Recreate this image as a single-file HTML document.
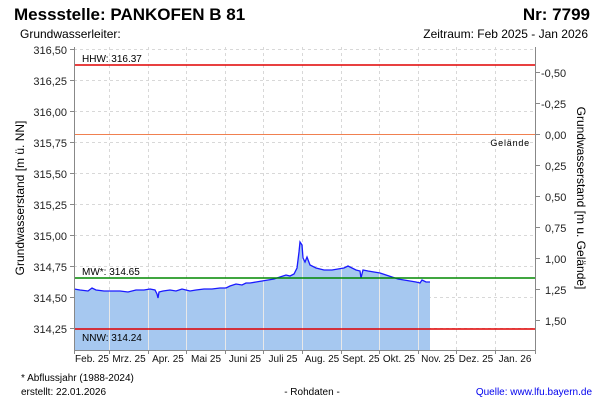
<!DOCTYPE html>
<html><head><meta charset="utf-8"><style>
html,body{margin:0;padding:0;background:#fff;}
svg{display:block;font-family:"Liberation Sans",sans-serif;}
</style></head><body>
<svg width="600" height="400" viewBox="0 0 600 400" xmlns="http://www.w3.org/2000/svg">
<rect width="600" height="400" fill="#fff"/>
<text x="14" y="20" font-size="17" font-weight="bold">Messstelle: PANKOFEN B 81</text>
<text x="590" y="20" font-size="17" font-weight="bold" text-anchor="end">Nr: 7799</text>
<text x="20" y="38" font-size="12">Grundwasserleiter:</text>
<text x="588" y="38" font-size="12" text-anchor="end">Zeitraum: Feb 2025 - Jan 2026</text>

<!-- horizontal grid -->
<g stroke="#d8d8d8" stroke-dasharray="3,3" stroke-width="1">
<line x1="74" x2="536" y1="49.5" y2="49.5"/><line x1="74" x2="536" y1="80.5" y2="80.5"/>
<line x1="74" x2="536" y1="111.5" y2="111.5"/><line x1="74" x2="536" y1="142.5" y2="142.5"/>
<line x1="74" x2="536" y1="173.5" y2="173.5"/><line x1="74" x2="536" y1="204.5" y2="204.5"/>
<line x1="74" x2="536" y1="235.5" y2="235.5"/><line x1="74" x2="536" y1="266.5" y2="266.5"/>
<line x1="74" x2="536" y1="297.5" y2="297.5"/><line x1="74" x2="536" y1="328.5" y2="328.5"/>
</g>
<g stroke="#d8d8d8" stroke-dasharray="3,3">
<line x1="109.5" x2="109.5" y1="47" y2="350"/><line x1="148.5" x2="148.5" y1="47" y2="350"/>
<line x1="186.5" x2="186.5" y1="47" y2="350"/><line x1="225.5" x2="225.5" y1="47" y2="350"/>
<line x1="263.5" x2="263.5" y1="47" y2="350"/><line x1="302.5" x2="302.5" y1="47" y2="350"/>
<line x1="341.5" x2="341.5" y1="47" y2="350"/><line x1="379.5" x2="379.5" y1="47" y2="350"/>
<line x1="418.5" x2="418.5" y1="47" y2="350"/><line x1="456.5" x2="456.5" y1="47" y2="350"/>
<line x1="495.5" x2="495.5" y1="47" y2="350"/>
</g>

<!-- series fill -->
<polygon fill="#a6c8f0" points="74,350 74,289 80,290 88,291 92,288 96,290 104,291 112,291 120,291 128,292 136,290 144,290 150,289 155,290 157,294 158,298 159,292 163,291 170,290 176,291 182,289 190,291 196,290 204,289 212,289 220,288 226,288 230,286 236,284 242,285 246,283 250,283 256,282 262,281 268,280 274,279 280,277 286,275 290,276 294,274 297,268 299,252 300,242 302,245 303,258 305,262 307,257 310,265 316,268 324,270 332,270 338,269 344,268 348,266 352,268 356,270 360,271 361,278 363,270 368,271 374,272 380,273 386,275 392,277 398,279 404,280 410,281 416,282 420,283 422,280 426,282 430,282 430,350"/>
<g stroke="#e8e8e8" stroke-width="1">
<line x1="109.5" x2="109.5" y1="291" y2="350"/><line x1="148.5" x2="148.5" y1="290" y2="350"/>
<line x1="186.5" x2="186.5" y1="291" y2="350"/><line x1="225.5" x2="225.5" y1="288" y2="350"/>
<line x1="263.5" x2="263.5" y1="281" y2="350"/><line x1="302.5" x2="302.5" y1="246" y2="350"/>
<line x1="341.5" x2="341.5" y1="268" y2="350"/><line x1="379.5" x2="379.5" y1="273" y2="350"/>
<line x1="418.5" x2="418.5" y1="282" y2="350"/>
</g>
<polyline fill="none" stroke="#1a1aff" stroke-width="1.3" points="74,289 80,290 88,291 92,288 96,290 104,291 112,291 120,291 128,292 136,290 144,290 150,289 155,290 157,294 158,298 159,292 163,291 170,290 176,291 182,289 190,291 196,290 204,289 212,289 220,288 226,288 230,286 236,284 242,285 246,283 250,283 256,282 262,281 268,280 274,279 280,277 286,275 290,276 294,274 297,268 299,252 300,242 302,245 303,258 305,262 307,257 310,265 316,268 324,270 332,270 338,269 344,268 348,266 352,268 356,270 360,271 361,278 363,270 368,271 374,272 380,273 386,275 392,277 398,279 404,280 410,281 416,282 420,283 422,280 426,282 430,282"/>

<line x1="74" x2="536" y1="65" y2="65" stroke="#e00000" stroke-width="1.5"/>
<text x="82" y="62" font-size="10">HHW: 316.37</text>
<line x1="74" x2="536" y1="134.5" y2="134.5" stroke="#f08050" stroke-width="1"/>
<text x="530" y="146" font-size="9" text-anchor="end" letter-spacing="0.8">Gelände</text>
<line x1="74" x2="536" y1="278" y2="278" stroke="#008800" stroke-width="1.5"/>
<text x="82" y="275" font-size="10">MW*: 314.65</text>
<line x1="74" x2="536" y1="329" y2="329" stroke="#e00000" stroke-width="1.5"/>
<text x="82" y="341" font-size="10">NNW: 314.24</text>

<g stroke="#888" stroke-width="1" fill="none">
<line x1="74.5" x2="74.5" y1="47" y2="351"/>
<line x1="535.5" x2="535.5" y1="47" y2="351"/>
<line x1="74" x2="536" y1="350.5" y2="350.5"/>
</g>
<g stroke="#888">
<line x1="70" x2="74" y1="49.5" y2="49.5"/><line x1="70" x2="74" y1="80.5" y2="80.5"/>
<line x1="70" x2="74" y1="111.5" y2="111.5"/><line x1="70" x2="74" y1="142.5" y2="142.5"/>
<line x1="70" x2="74" y1="173.5" y2="173.5"/><line x1="70" x2="74" y1="204.5" y2="204.5"/>
<line x1="70" x2="74" y1="235.5" y2="235.5"/><line x1="70" x2="74" y1="266.5" y2="266.5"/>
<line x1="70" x2="74" y1="297.5" y2="297.5"/><line x1="70" x2="74" y1="328.5" y2="328.5"/>
<line x1="536" x2="540" y1="72.5" y2="72.5"/><line x1="536" x2="540" y1="103.5" y2="103.5"/>
<line x1="536" x2="540" y1="134.5" y2="134.5"/><line x1="536" x2="540" y1="165.5" y2="165.5"/>
<line x1="536" x2="540" y1="196.5" y2="196.5"/><line x1="536" x2="540" y1="227.5" y2="227.5"/>
<line x1="536" x2="540" y1="258.5" y2="258.5"/><line x1="536" x2="540" y1="289.5" y2="289.5"/>
<line x1="536" x2="540" y1="320.5" y2="320.5"/>
<line x1="74.5" x2="74.5" y1="350" y2="354"/><line x1="109.5" x2="109.5" y1="350" y2="354"/>
<line x1="148.5" x2="148.5" y1="350" y2="354"/><line x1="186.5" x2="186.5" y1="350" y2="354"/>
<line x1="225.5" x2="225.5" y1="350" y2="354"/><line x1="263.5" x2="263.5" y1="350" y2="354"/>
<line x1="302.5" x2="302.5" y1="350" y2="354"/><line x1="341.5" x2="341.5" y1="350" y2="354"/>
<line x1="379.5" x2="379.5" y1="350" y2="354"/><line x1="418.5" x2="418.5" y1="350" y2="354"/>
<line x1="456.5" x2="456.5" y1="350" y2="354"/><line x1="495.5" x2="495.5" y1="350" y2="354"/>
<line x1="535.5" x2="535.5" y1="350" y2="354"/>
</g>
<g font-size="11" text-anchor="end" fill="#222">
<text x="67" y="54">316,50</text><text x="67" y="85">316,25</text><text x="67" y="116">316,00</text>
<text x="67" y="147">315,75</text><text x="67" y="178">315,50</text><text x="67" y="209">315,25</text>
<text x="67" y="240">315,00</text><text x="67" y="271">314,75</text><text x="67" y="302">314,50</text>
<text x="67" y="333">314,25</text>
</g>
<g font-size="11" fill="#222">
<text x="541" y="77">-0,50</text><text x="541" y="108">-0,25</text><text x="545" y="139">0,00</text>
<text x="545" y="170">0,25</text><text x="545" y="201">0,50</text><text x="545" y="232">0,75</text>
<text x="545" y="263">1,00</text><text x="545" y="294">1,25</text><text x="545" y="325">1,50</text>
</g>
<text transform="translate(24,198) rotate(-90)" font-size="12" text-anchor="middle">Grundwasserstand [m ü. NN]</text>
<text transform="translate(577,198) rotate(90)" font-size="12" text-anchor="middle">Grundwasserstand [m u. Gelände]</text>
<g font-size="10" text-anchor="middle" fill="#111">
<text x="92" y="362">Feb. 25</text><text x="129" y="362">Mrz. 25</text><text x="168" y="362">Apr. 25</text>
<text x="206" y="362">Mai 25</text><text x="245" y="362">Juni 25</text><text x="283" y="362">Juli 25</text>
<text x="322" y="362">Aug. 25</text><text x="361" y="362">Sept. 25</text><text x="399" y="362">Okt. 25</text>
<text x="438" y="362">Nov. 25</text><text x="476" y="362">Dez. 25</text><text x="515" y="362">Jan. 26</text>
</g>
<text x="21" y="381" font-size="10">* Abflussjahr (1988-2024)</text>
<text x="21" y="395" font-size="10">erstellt:  22.01.2026</text>
<text x="312" y="395" font-size="10" text-anchor="middle">- Rohdaten -</text>
<text x="592" y="395" font-size="10" text-anchor="end" fill="#0000ee">Quelle: www.lfu.bayern.de</text>
</svg>
</body></html>
